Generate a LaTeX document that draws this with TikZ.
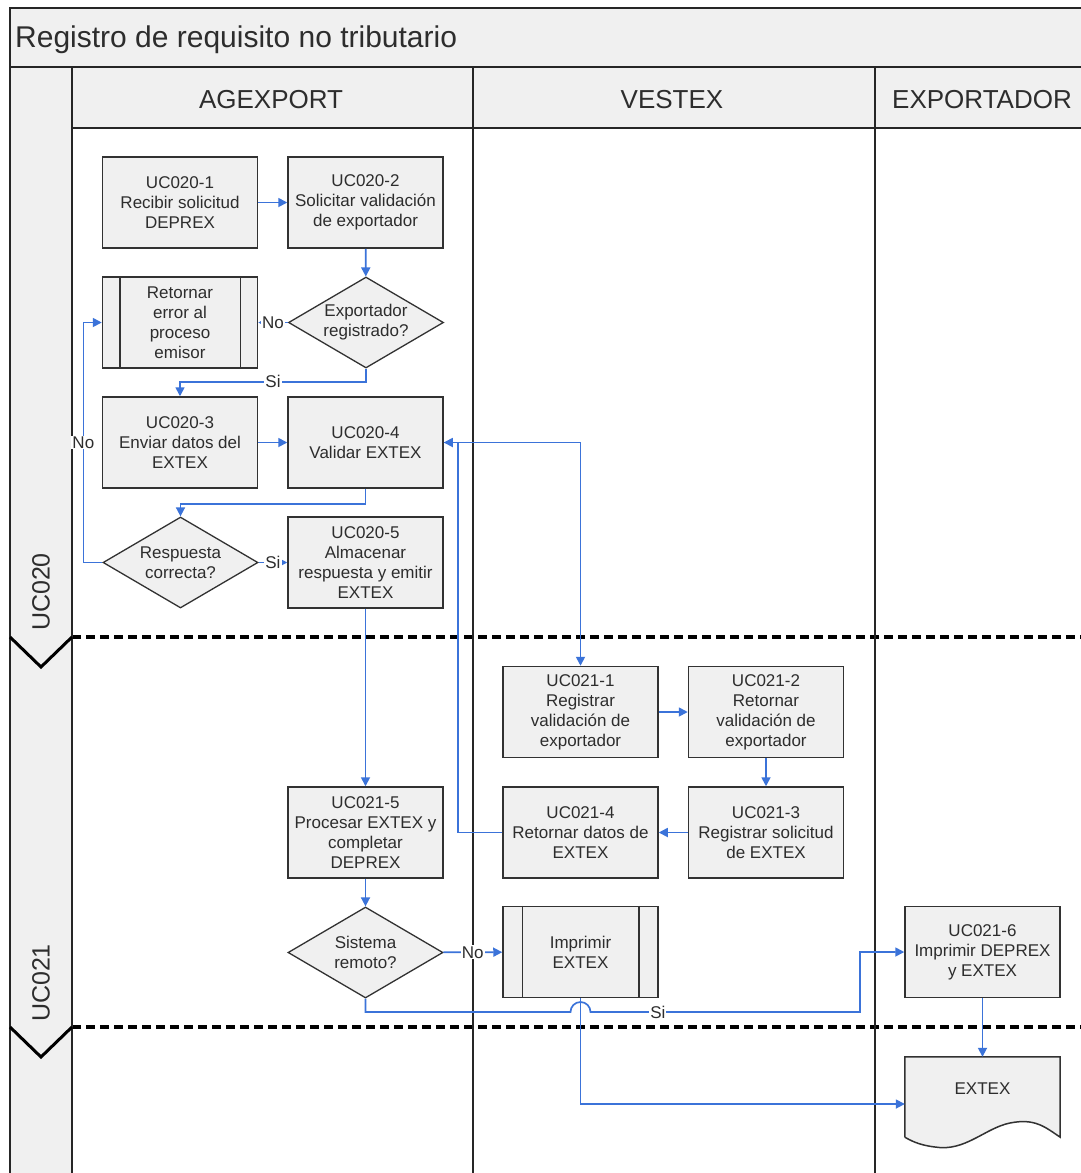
\documentclass[tikz,border=0pt]{standalone}
\usepackage{fontspec}
\setmainfont{Liberation Sans}
\usetikzlibrary{shapes.geometric,arrows.meta}
\definecolor{fillg}{RGB}{240,240,240}
\definecolor{flow}{RGB}{59,115,217}
\definecolor{bord}{RGB}{50,50,50}
\definecolor{txt}{RGB}{45,45,45}
\begin{document}
\begin{tikzpicture}[x=1pt,y=-1pt,
  proc/.style={draw=bord,line width=1.5pt,fill=fillg,minimum width=155pt,minimum height=91pt,inner sep=0pt,align=center,font=\fontsize{17}{20}\selectfont,text=txt},
  dec/.style={diamond,draw=bord,line width=1.3pt,fill=fillg,minimum width=155pt,minimum height=91pt,inner sep=0pt},
  dectext/.style={align=center,inner sep=0pt,font=\fontsize{17}{20}\selectfont,text=txt},
  arr/.style={draw=flow,line width=1.7pt,-{Triangle[length=9pt,width=9pt]}},
  lbl/.style={fill=white,inner sep=1pt,font=\fontsize{17}{18}\selectfont,text=txt},
  frameline/.style={draw=black!85,line width=2pt},
  phase/.style={draw=black,line width=3.5pt,dash pattern=on 9pt off 5pt},
  hdr/.style={font=\fontsize{26}{30}\selectfont,text=txt,anchor=base},
]
\useasboundingbox (0,0) rectangle (1081,1173);
% bands
\fill[fillg] (10,8) rectangle (1081,128);
\fill[fillg] (10,128) rectangle (72,1173);
\fill[white] (72,128) rectangle (1081,1173);
% phase separators
\draw[phase] (72,637) -- (1081,637);
\draw[phase] (72,1027) -- (1081,1027);
% frame lines
\draw[frameline] (1081,8) -- (10,8) -- (10,1173);
\draw[frameline] (10,67) -- (1081,67);
\draw[frameline] (72,128) -- (1081,128);
\draw[frameline] (72,67) -- (72,1173);
\draw[frameline] (473,67) -- (473,1173);
\draw[frameline] (875,67) -- (875,1173);
% chevrons
\draw[black,line width=3pt] (10,637) -- (41,667) -- (72,637);
\draw[black,line width=3pt] (10,1027) -- (41,1057) -- (72,1027);
% title and headers
\node[font=\fontsize{30}{34}\selectfont,text=txt,anchor=base west,inner sep=0pt] (title) at (15,47) {Registro de requisito no tributario};
\node[hdr] (hA) at (271,108.5) {AGEXPORT};
\node[hdr] (hV) at (672,108.5) {VESTEX};
\node[hdr] (hE) at (982,108.5) {EXPORTADOR};
\node[rotate=90,font=\fontsize{25}{28}\selectfont,text=txt] (ph1) at (41,592) {UC020};
\node[rotate=90,font=\fontsize{25}{28}\selectfont,text=txt] (ph2) at (41,983) {UC021};
% nodes
\node[proc] (a1) at (180,202.5) {UC020-1\\Recibir solicitud\\DEPREX};
\node[proc] (a2) at (365.5,202.5) {UC020-2\\Solicitar validación\\de exportador};
\node[proc] (ret) at (180,322.5) {Retornar\\error al\\proceso\\emisor};
\draw[bord,line width=1.5pt] ([xshift=18pt]ret.north west) -- ([xshift=18pt]ret.south west);
\draw[bord,line width=1.5pt] ([xshift=-18pt]ret.north east) -- ([xshift=-18pt]ret.south east);
\node[dec] (d1) at (366,322.5) {};
\node[dectext] (d1t) at (d1) {Exportador\\registrado?};
\node[proc] (a3) at (180,442.5) {UC020-3\\Enviar datos del\\EXTEX};
\node[proc] (a4) at (365.5,442.5) {UC020-4\\Validar EXTEX};
\node[dec] (d2) at (180.5,562.5) {};
\node[dectext] (d2t) at (d2) {Respuesta\\correcta?};
\node[proc] (a5) at (365.5,562.5) {UC020-5\\Almacenar\\respuesta y emitir\\EXTEX};
\node[proc] (b1) at (580.5,712) {UC021-1\\Registrar\\validación de\\exportador};
\node[proc] (b2) at (766,712) {UC021-2\\Retornar\\validación de\\exportador};
\node[proc] (b4) at (580.5,832.5) {UC021-4\\Retornar datos de\\EXTEX};
\node[proc] (b3) at (766,832.5) {UC021-3\\Registrar solicitud\\de EXTEX};
\node[proc] (b5) at (365.5,832.5) {UC021-5\\Procesar EXTEX y\\completar\\DEPREX};
\node[dec] (d3) at (365.5,952.5) {};
\node[dectext] (d3t) at (d3) {Sistema\\remoto?};
\node[proc] (pr) at (580.5,952) {Imprimir\\EXTEX};
\draw[bord,line width=1.5pt] ([xshift=20pt]pr.north west) -- ([xshift=20pt]pr.south west);
\draw[bord,line width=1.5pt] ([xshift=-20pt]pr.north east) -- ([xshift=-20pt]pr.south east);
\node[proc] (b6) at (982.5,952) {UC021-6\\Imprimir DEPREX\\y EXTEX};
\node[minimum width=155pt,minimum height=80pt,inner sep=0pt] (doc) at (982.5,1097) {};
\draw[bord,line width=1.5pt,fill=fillg] (doc.south west) -- (doc.north west) -- (doc.north east) -- (doc.south east)
  .. controls (1045,1127) and (1035,1118) .. (1010,1123)
  .. controls (985,1128) and (965,1152) .. (935,1147)
  .. controls (918,1145) and (910,1140) .. (doc.south west);
\node[font=\fontsize{17}{20}\selectfont,text=txt] (doct) at (982.5,1089) {EXTEX};
% flows
\draw[arr] (a1) -- (a2);
\draw[arr] (a2) -- (d1);
\draw[arr] (d1) -- node[lbl]{No} (ret);
\draw[arr] (d1.south) -- ++(0,13) -| node[lbl,pos=0.25]{Si} (a3.north);
\draw[arr] (a3) -- (a4);
\draw[arr] (a4.south) -- ++(0,15) -| (d2.north);
\draw[arr] (d2.west) -- ++(-19,0) |- node[lbl,pos=0.25]{No} (ret.west);
\draw[arr] (d2) -- node[lbl]{Si} (a5);
\draw[arr] (a5) -- (b5);
\draw[arr] (a4.east) -| (b1.north);
\coordinate (j1) at (458,832.5);
\draw[arr] (b4.west) -- (j1) |- (a4.east);
\draw[arr] (b1) -- (b2);
\draw[arr] (b2) -- (b3);
\draw[arr] (b3) -- (b4);
\draw[arr] (b5) -- (d3);
\draw[arr] (d3) -- node[lbl]{No} (pr);
\draw[arr] (pr.south) |- ([yshift=-7pt]doc.west);
\coordinate (h1) at (570.5,1012);
\coordinate (h2) at (860,1012);
\draw[arr] (d3.south) |- (h1) arc[start angle=180,end angle=0,radius=10pt] -- node[lbl,pos=0.25]{Si} (h2) |- (b6.west);
\draw[arr] (b6) -- (doc);
\end{tikzpicture}
\end{document}
